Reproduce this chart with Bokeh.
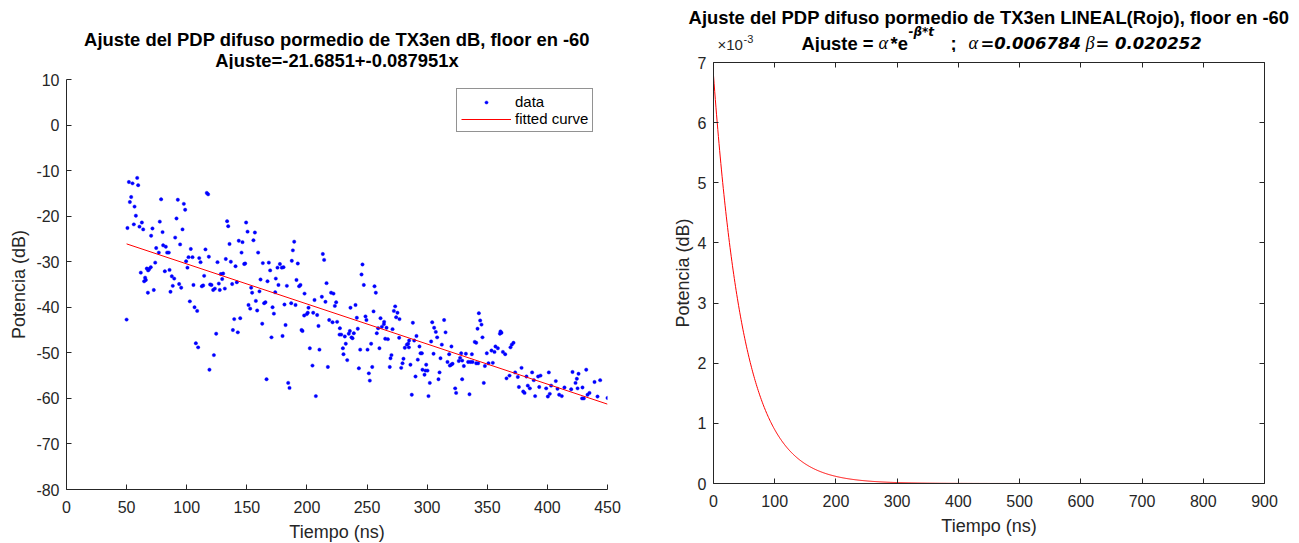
import numpy as np
from bokeh.plotting import figure
from bokeh.layouts import row, column
from bokeh.core.properties import value
from bokeh.models import (Plot, Legend, LegendItem, LinearAxis, FixedTicker,
                          Range1d, CustomJSTickFormatter)
from bokeh.embed import file_html
from bokeh.resources import INLINE

# ---------------------------------------------------------------------------
# Averaged diffuse PDP of TX3 (time in ns, power in dB, floor at -60 dB)
# ---------------------------------------------------------------------------
t_050_120 = [58.8, 51.9, 54.9, 59.6, 53.8, 52.7, 56.6, 78.7, 92.6, 97.6,
             98.7, 116.7, 117.8, 57.7, 91.5, 77.6, 62.7, 56.0, 50.7, 60.7,
             63.8, 71.5, 79.9, 96.5, 70.4, 90.4, 74.6, 80.4, 82.6, 94.5,
             76.8, 83.7, 85.1, 103.4, 115.6, 101.5, 104.8, 110.4, 118.4, 73.8,
             99.5, 111.5, 66.8, 68.8, 70.1, 67.9, 61.8, 81.8, 85.7, 100.6,
             65.4, 66.0, 64.6, 87.6, 89.6, 93.7, 95.4, 88.4, 105.6, 113.7,
             112.6, 114.5, 119.5, 72.6, 67.7, 86.5, 102.6, 106.5, 108.7, 50.0,
             107.6, 109.5, 118.9]
p_050_120 = [-11.6, -12.5, -12.8, -13.2, -15.8, -16.9, -17.9, -16.3, -16.4, -17.3,
             -18.6, -14.9, -15.2, -19.9, -20.5, -21.2, -21.4, -21.8, -22.6, -22.3,
             -22.9, -22.7, -23.5, -22.9, -24.3, -24.7, -27.0, -26.4, -26.7, -26.2,
             -28.0, -28.0, -28.0, -27.2, -27.3, -29.0, -29.0, -29.2, -28.9, -30.2,
             -29.9, -30.1, -31.5, -31.6, -31.2, -31.9, -32.4, -32.1, -31.8, -31.3,
             -33.5, -34.0, -34.3, -33.2, -33.7, -34.9, -35.7, -35.3, -35.1, -35.2,
             -35.4, -33.1, -35.0, -36.2, -36.8, -36.6, -38.7, -40.0, -40.8, -42.7,
             -47.9, -48.8, -53.7]

t_120_200 = [133.6, 134.5, 149.4, 150.6, 156.7, 155.5, 135.6, 143.3, 146.4, 145.6,
             159.4, 189.4, 188.3, 125.6, 132.5, 136.7, 140.6, 147.8, 148.6, 163.3,
             168.3, 177.5, 175.5, 179.1, 180.5, 169.4, 187.4, 192.4, 128.4, 130.3,
             129.5, 120.6, 122.0, 123.4, 126.7, 127.5, 131.7, 137.8, 141.7, 161.4,
             167.2, 174.1, 176.3, 183.3, 191.3, 193.5, 194.6, 153.6, 154.4, 160.5,
             173.6, 198.0, 151.4, 152.8, 157.5, 158.6, 164.4, 165.5, 171.4, 172.5,
             181.3, 186.9, 190.5, 197.7, 139.5, 144.5, 138.4, 142.5, 162.8, 182.2,
             195.5, 196.3, 124.5, 170.5, 179.7, 122.6, 166.4, 184.4, 185.5]
p_120_200 = [-21.1, -22.2, -21.4, -23.4, -23.6, -25.3, -26.1, -25.4, -25.7, -28.0,
             -28.0, -25.6, -27.5, -30.1, -29.4, -30.0, -31.0, -30.5, -30.4, -30.3,
             -30.2, -30.5, -31.3, -31.3, -31.2, -31.9, -29.8, -30.4, -32.7, -32.6,
             -33.8, -35.1, -36.2, -35.9, -34.8, -36.2, -35.9, -34.9, -34.5, -33.9,
             -34.3, -33.7, -35.1, -35.3, -34.0, -35.4, -35.1, -35.7, -36.8, -36.5,
             -36.7, -37.0, -39.5, -40.3, -38.6, -40.7, -39.1, -38.9, -40.0, -41.4,
             -39.4, -39.1, -39.5, -41.8, -42.6, -42.4, -45.0, -45.5, -43.6, -43.9,
             -45.0, -45.2, -45.8, -46.6, -46.3, -50.5, -55.8, -56.6, -57.7]

t_200_280 = [213.2, 214.3, 246.2, 245.4, 247.3, 216.3, 206.3, 212.4, 215.4, 220.1,
             222.1, 224.3, 223.2, 256.2, 257.3, 240.4, 236.2, 201.3, 199.9, 200.7,
             205.2, 208.5, 209.6, 273.4, 272.3, 275.3, 274.2, 277.0, 255.4, 248.7,
             241.5, 249.5, 261.2, 264.2, 264.0, 218.5, 221.3, 225.1, 227.4, 227.1,
             228.5, 231.5, 235.7, 234.8, 239.0, 237.1, 242.3, 237.9, 259.2, 262.3,
             266.2, 271.2, 258.1, 265.1, 267.3, 276.7, 232.3, 229.9, 230.4, 233.5,
             244.3, 250.4, 253.4, 260.3, 270.3, 269.5, 268.9, 202.4, 210.4, 204.6,
             217.4, 243.2, 254.3, 251.5, 252.3, 207.4]
p_200_280 = [-28.3, -29.6, -30.6, -32.8, -35.1, -34.7, -38.4, -37.7, -38.8, -36.8,
             -37.0, -38.9, -39.7, -35.4, -36.8, -39.5, -40.1, -40.1, -41.5, -41.2,
             -41.2, -41.7, -44.1, -39.8, -40.8, -41.2, -42.2, -42.6, -40.9, -42.0,
             -42.3, -42.8, -42.4, -43.2, -43.7, -42.8, -43.3, -43.2, -44.6, -46.0,
             -46.0, -46.4, -45.2, -45.8, -45.7, -46.6, -44.7, -46.8, -44.6, -44.3,
             -44.5, -44.8, -45.7, -46.9, -47.0, -46.7, -48.0, -49.0, -50.3, -51.6,
             -49.3, -49.3, -48.0, -49.0, -50.5, -51.2, -53.1, -49.0, -49.3, -52.8,
             -53.1, -53.4, -53.1, -54.5, -56.1, -59.5]

t_280_357 = [288.1, 304.2, 314.1, 315.3, 305.8, 307.2, 308.3, 303.3, 291.1, 285.0,
             289.2, 284.2, 283.1, 281.4, 284.8, 293.6, 295.6, 294.5, 305.3, 312.2,
             320.2, 318.3, 328.3, 332.2, 337.2, 311.1, 316.9, 320.0, 318.9, 321.1,
             326.3, 327.4, 329.1, 334.1, 336.0, 337.7, 340.8, 342.4, 330.5, 349.6,
             353.5, 356.0, 351.0, 354.6, 348.0, 343.0, 344.1, 345.2, 341.9, 339.6,
             340.8, 346.0, 280.3, 279.5, 278.4, 286.1, 292.2, 296.1, 298.6, 300.3,
             297.8, 299.2, 310.3, 309.4, 302.2, 290.3, 287.2, 301.1, 323.3, 324.1,
             329.1, 335.2, 347.1, 356.8]
p_280_357 = [-43.4, -43.3, -42.8, -45.5, -44.5, -45.4, -46.6, -47.5, -46.3, -47.3,
             -47.3, -48.0, -48.2, -48.9, -48.8, -48.6, -50.1, -50.1, -50.2, -48.2,
             -48.6, -50.3, -50.1, -50.2, -50.3, -51.2, -52.0, -52.6, -52.8, -52.4,
             -51.8, -51.1, -51.7, -52.0, -52.0, -52.0, -52.3, -52.3, -52.9, -50.1,
             -49.5, -49.8, -52.3, -52.2, -52.9, -41.3, -42.9, -43.8, -44.7, -47.6,
             -47.8, -46.6, -51.3, -52.3, -53.3, -52.6, -51.5, -53.7, -53.9, -53.9,
             -54.8, -52.6, -54.3, -55.8, -56.6, -55.2, -59.2, -59.5, -57.8, -58.8,
             -55.8, -59.1, -56.6, -48.6]

t_357_450 = [361.0, 361.8, 360.5, 358.8, 363.0, 364.9, 369.3, 370.4, 371.8, 378.5,
             373.2, 368.5, 366.0, 375.4, 382.6, 387.3, 392.3, 394.3, 401.2, 388.7,
             407.0, 420.9, 425.9, 432.3, 423.4, 424.5, 443.9, 439.2, 376.3, 383.7,
             385.4, 393.2, 399.0, 403.1, 408.4, 414.2, 419.8, 425.1, 429.2, 379.9,
             381.0, 389.8, 402.0, 400.4, 409.8, 412.0, 435.0, 433.4, 428.9, 430.3,
             441.7, 450.0]
p_357_450 = [-45.3, -45.6, -45.8, -49.0, -49.8, -50.3, -48.8, -48.2, -47.8, -53.3,
             -54.3, -55.0, -55.6, -55.3, -55.2, -54.3, -55.2, -55.0, -54.3, -56.0,
             -56.2, -54.2, -54.6, -53.7, -56.6, -55.7, -56.0, -56.4, -57.5, -57.2,
             -57.8, -57.5, -57.8, -57.2, -57.9, -57.6, -58.0, -57.8, -57.6, -58.5,
             -58.8, -59.5, -59.0, -59.6, -59.2, -59.5, -58.8, -59.2, -60.0, -60.0,
             -59.6, -59.9]

tiempo_ns = t_050_120 + t_120_200 + t_200_280 + t_280_357 + t_357_450
potencia_db = p_050_120 + p_120_200 + p_200_280 + p_280_357 + p_357_450

# Linear fit in dB:  P = a + b*t
fit_a = -21.6851
fit_b = -0.087951

# Exponential fit in linear units:  P = alpha * exp(-beta * t)
alpha = 0.006784
beta = 0.020252
t_exp_end = 800

left_xticks = list(range(0, 451, 50))
left_yticks = list(range(-80, 11, 10))
right_xticks = list(range(0, 901, 100))
right_yticks = [k / 1000 for k in range(8)]

SANS = "Liberation Sans"
SERIF = "Liberation Serif"
WIDE = "DejaVu Sans"
INK = "#262626"
TICK_PX = "16px"
LABEL_PX = "18px"
TITLE_PX = "18.4px"

# panel geometry (pixels)
LEFT_W, RIGHT_W = 660, 639
LEFT_TOP, RIGHT_TOP = 79, 62       # frame tops
PAD = 10                           # room above each frame for the top tick label

# keep each canvas at its own size inside the row/column layout
NO_ALIGN = {"frame_align": False} if "frame_align" in Plot.properties() else {}


def style_axis(ax):
    ax.axis_line_color = INK
    ax.axis_line_width = 1
    ax.major_tick_line_color = INK
    ax.major_tick_in = 5
    ax.major_tick_out = 0
    ax.minor_tick_line_color = None
    ax.major_label_text_color = INK
    ax.major_label_text_font = SANS
    ax.major_label_text_font_size = TICK_PX
    ax.axis_label_text_color = INK
    ax.axis_label_text_font = SANS
    ax.axis_label_text_font_size = LABEL_PX
    ax.axis_label_text_font_style = "normal"


def header(width, height):
    """Blank strip above a panel that holds its title text (pixel coordinates)."""
    h = figure(width=width, height=height, x_range=Range1d(0, width),
               y_range=Range1d(height, 0), x_axis_location=None,
               y_axis_location=None, min_border=0, min_border_left=0,
               min_border_right=0, min_border_top=0, min_border_bottom=0,
               title=None, output_backend="svg", toolbar_location=None, tools="",
               **NO_ALIGN)
    h.grid.visible = False
    h.outline_line_color = None
    h.border_fill_color = "white"
    h.background_fill_color = "white"
    return h


def write(fig, x, y, s, size=TITLE_PX, font=SANS, style="bold", align="center",
          color="black"):
    fig.text(x=[x], y=[y], text=[s], text_font=value(font),
             text_font_size=value(size), text_font_style=style,
             text_align=align, text_baseline="middle", text_color=color,
             text_line_height=1.0)


int_labels = "return tick.toFixed(0);"

# ---------------------------------------------------------------------------
# Left panel: dB samples with linear fit
# ---------------------------------------------------------------------------
LW, LH = 541, 410
left = figure(frame_width=LW, frame_height=LH, title=None,
              min_border_left=66, min_border_right=LEFT_W - 66 - LW,
              min_border_top=PAD, min_border_bottom=543 - LEFT_TOP - LH,
              x_range=Range1d(0, 450), y_range=Range1d(-80, 10),
              output_backend="svg", toolbar_location=None, tools="", **NO_ALIGN)
left.grid.visible = False
left.outline_line_color = None
left.border_fill_color = "white"
left.background_fill_color = "white"

left.xaxis.ticker = FixedTicker(ticks=left_xticks)
left.yaxis.ticker = FixedTicker(ticks=left_yticks)
left.xaxis.formatter = CustomJSTickFormatter(code=int_labels)
left.yaxis.formatter = CustomJSTickFormatter(code=int_labels)
left.xaxis.axis_label = "Tiempo (ns)"
left.yaxis.axis_label = "Potencia (dB)"
for ax in left.xaxis + left.yaxis:
    style_axis(ax)
left.xaxis.major_label_standoff = 11
left.xaxis.axis_label_standoff = 6
left.yaxis.major_label_standoff = 7
left.yaxis.axis_label_standoff = 4

r_data = left.scatter(tiempo_ns, potencia_db, marker="circle", size=3.4,
                      fill_color="#0000FF", line_color="#0000FF", line_width=0.4)
t_fit = np.array([min(tiempo_ns), max(tiempo_ns)])
p_fit = fit_a + fit_b * t_fit
r_fit = left.line(t_fit, p_fit, line_color="#FF0000", line_width=1)

legend = Legend(items=[LegendItem(label="data", renderers=[r_data]),
                       LegendItem(label="fitted curve", renderers=[r_fit])],
                location=(390, 357), orientation="vertical", margin=0,
                padding=4, spacing=0, glyph_width=50, glyph_height=8,
                label_height=17, label_standoff=4,
                label_text_font=SANS, label_text_font_size="15px",
                label_text_color="black", border_line_color=INK,
                border_line_width=1, background_fill_color="white",
                background_fill_alpha=1)
left.add_layout(legend)

left_head = header(LEFT_W, LEFT_TOP - PAD)
write(left_head, 66 + LW / 2, 39, "Ajuste del PDP difuso pormedio de TX3en dB, floor en -60")
write(left_head, 66 + LW / 2, 59.5, f"Ajuste={fit_a:g}+{fit_b:g}x")

# ---------------------------------------------------------------------------
# Right panel: linear-scale exponential fit
# ---------------------------------------------------------------------------
RW, RH = 551, 421
right = figure(frame_width=RW, frame_height=RH, title=None,
               min_border_left=53, min_border_right=RIGHT_W - 53 - RW,
               min_border_top=PAD, min_border_bottom=543 - RIGHT_TOP - RH,
               x_range=Range1d(0, 900), y_range=Range1d(0, 0.007),
               output_backend="svg", toolbar_location=None, tools="", **NO_ALIGN)
right.grid.visible = False
right.outline_line_color = None
right.border_fill_color = "white"
right.background_fill_color = "white"

right.xaxis.ticker = FixedTicker(ticks=right_xticks)
right.yaxis.ticker = FixedTicker(ticks=right_yticks)
right.xaxis.formatter = CustomJSTickFormatter(code=int_labels)
right.yaxis.formatter = CustomJSTickFormatter(code="return (tick * 1000).toFixed(0);")
right.xaxis.axis_label = "Tiempo (ns)"
right.yaxis.axis_label = "Potencia (dB)"
for ax in right.xaxis + right.yaxis:
    style_axis(ax)
right.xaxis.major_label_standoff = 11
right.xaxis.axis_label_standoff = 6
right.yaxis.major_label_standoff = 7
right.yaxis.axis_label_standoff = 2

# mirrored box axes (ticks only)
for side, ticks in (("above", right_xticks), ("right", right_yticks)):
    box_ax = LinearAxis(ticker=FixedTicker(ticks=ticks),
                        formatter=CustomJSTickFormatter(code="return '';"))
    style_axis(box_ax)
    box_ax.major_label_text_font_size = "0px"
    box_ax.major_label_standoff = 0
    right.add_layout(box_ax, side)

t_exp = np.linspace(0, t_exp_end, 801)
p_exp = alpha * np.exp(-beta * t_exp)
right.line(t_exp, p_exp, line_color="#FF0000", line_width=1)

right_head = header(RIGHT_W, RIGHT_TOP - PAD)
write(right_head, 53 + RW / 2, 17,
      "Ajuste del PDP difuso pormedio de TX3en LINEAL(Rojo), floor en -60")
mid = 42.5
write(right_head, 141, mid, "Ajuste =", align="left")
write(right_head, 218, mid, "\u03b1", font=SERIF, style="italic", align="left")
write(right_head, 230, mid, "*e", align="left")
write(right_head, 248, mid - 11, "-\u03b2*t", size="12px", font=WIDE,
      style="bold italic", align="left")
write(right_head, 290, mid, ";", align="left")
write(right_head, 308, mid, "\u03b1", font=SERIF, style="italic", align="left")
write(right_head, 320, mid, f"={alpha:g}", size="16.5px", font=WIDE,
      style="bold italic", align="left")
write(right_head, 425, mid, "\u03b2", font=SERIF, style="italic", align="left")
write(right_head, 435, mid, f"= {beta:g}", size="16.5px", font=WIDE,
      style="bold italic", align="left")

# axis multiplier above the y axis
write(right_head, 57, 44, "\u00d710", size="15px", style="normal", align="left",
      color=INK)
write(right_head, 83, 38, "-3", size="11px", style="normal", align="left",
      color=INK)

layout = row(column(left_head, left, spacing=0), column(right_head, right, spacing=0),
             spacing=0)
open("out.html", "w").write(file_html(layout, INLINE))
